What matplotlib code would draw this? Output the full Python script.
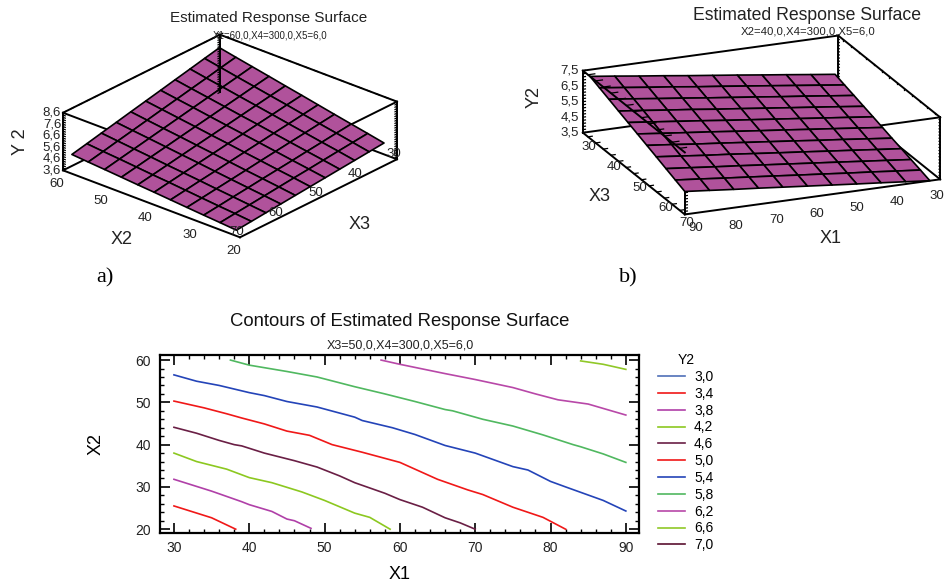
import numpy as np
import matplotlib
matplotlib.use("Agg")
import matplotlib.pyplot as plt
from matplotlib.ticker import MultipleLocator
from mpl_toolkits.mplot3d import proj3d

plt.rcParams['font.family'] = ['Liberation Sans', 'DejaVu Sans']

W, H = 947, 582
SURF = '#b0529b'

# panel a: Y2 against X2, X3
a_x2 = [20.8, 24.5, 28.2, 32.0, 35.7, 39.4, 43.1, 46.8, 50.6, 54.3, 58.0]
a_x3 = [70.0, 66.2, 62.5, 58.7, 55.0, 51.2, 47.4, 43.7, 39.9, 36.2, 32.4]
a_y2 = [
    [4.10, 4.22, 4.33, 4.45, 4.57, 4.69, 4.80, 4.92, 5.04, 5.15, 5.27],
    [4.22, 4.36, 4.48, 4.62, 4.76, 4.90, 5.02, 5.16, 5.30, 5.42, 5.56],
    [4.34, 4.49, 4.64, 4.79, 4.95, 5.10, 5.24, 5.40, 5.55, 5.70, 5.85],
    [4.46, 4.63, 4.79, 4.96, 5.13, 5.31, 5.47, 5.64, 5.81, 5.97, 6.14],
    [4.58, 4.77, 4.95, 5.13, 5.32, 5.51, 5.69, 5.88, 6.06, 6.24, 6.43],
    [4.70, 4.91, 5.10, 5.31, 5.51, 5.72, 5.91, 6.12, 6.32, 6.52, 6.72],
    [4.82, 5.04, 5.25, 5.48, 5.70, 5.92, 6.13, 6.35, 6.58, 6.79, 7.01],
    [4.94, 5.18, 5.41, 5.65, 5.89, 6.13, 6.35, 6.59, 6.83, 7.06, 7.30],
    [5.06, 5.32, 5.56, 5.82, 6.07, 6.33, 6.58, 6.83, 7.09, 7.33, 7.59],
    [5.18, 5.45, 5.72, 5.99, 6.26, 6.54, 6.80, 7.07, 7.34, 7.61, 7.88],
    [5.30, 5.59, 5.87, 6.16, 6.45, 6.74, 7.02, 7.31, 7.60, 7.88, 8.17],
]

# panel b: Y2 against X1, X3
b_x1 = [90.0, 84.2, 78.5, 72.7, 67.0, 61.2, 55.4, 49.6, 43.9, 38.1, 32.4]
b_x3 = [70.0, 66.3, 62.6, 58.8, 55.1, 51.4, 47.7, 44.0, 40.2, 36.5, 32.8]
b_y2 = [
    [4.98, 4.83, 4.68, 4.54, 4.39, 4.24, 4.09, 3.94, 3.80, 3.65, 3.50],
    [5.23, 5.08, 4.92, 4.77, 4.62, 4.46, 4.31, 4.15, 4.01, 3.85, 3.70],
    [5.48, 5.32, 5.16, 5.01, 4.85, 4.69, 4.53, 4.37, 4.21, 4.05, 3.89],
    [5.74, 5.57, 5.40, 5.25, 5.08, 4.91, 4.75, 4.58, 4.42, 4.25, 4.09],
    [5.99, 5.82, 5.64, 5.48, 5.31, 5.14, 4.97, 4.79, 4.63, 4.45, 4.28],
    [6.24, 6.06, 5.89, 5.72, 5.54, 5.36, 5.19, 5.01, 4.84, 4.66, 4.48],
    [6.49, 6.31, 6.13, 5.95, 5.76, 5.58, 5.40, 5.22, 5.04, 4.86, 4.68],
    [6.74, 6.56, 6.37, 6.19, 5.99, 5.81, 5.62, 5.43, 5.25, 5.06, 4.87],
    [7.00, 6.81, 6.61, 6.42, 6.22, 6.03, 5.84, 5.64, 5.46, 5.26, 5.07],
    [7.25, 7.05, 6.85, 6.66, 6.45, 6.26, 6.06, 5.86, 5.66, 5.46, 5.26],
    [7.50, 7.30, 7.09, 6.89, 6.68, 6.48, 6.28, 6.07, 5.87, 5.66, 5.46],
]

a_x2_ticks = [20, 30, 40, 50, 60]
a_x3_ticks = [30, 40, 50, 60, 70]
a_y_ticks = [3.6, 4.6, 5.6, 6.6, 7.6, 8.6]
b_x1_ticks = [30, 40, 50, 60, 70, 80, 90]
b_x3_ticks = [30, 40, 50, 60, 70]
b_y_ticks = [3.5, 4.5, 5.5, 6.5, 7.5]

# panel c: contour lines, level -> (X1, X2)
levels = ['3,0', '3,4', '3,8', '4,2', '4,6', '5,0', '5,4', '5,8', '6,2', '6,6', '7,0']
level_colors = ['#4f6fb8', '#f01818', '#b040a8', '#8cc820', '#6a1f45', '#f01818',
                '#2444b8', '#50b860', '#b848a8', '#90c828', '#5a1030']
lines_x1 = {
    '3,4': [30, 35, 38.2],
    '3,8': [30, 35, 39, 40, 43, 45, 46, 48.2],
    '4,2': [30, 33, 37, 40, 43, 47, 50, 54, 56, 58.7],
    '4,6': [30, 33, 36, 38, 39, 42, 46, 49, 52, 54, 58, 60, 63, 66, 68, 70],
    '5,0': [30, 34, 37, 39, 42, 45, 48, 51, 55, 60, 62, 65, 69, 71, 75, 79, 82],
    '5,4': [30, 33, 36, 40, 42, 45, 49, 54, 55, 59, 62, 66, 70, 75, 77, 80, 82, 87, 90],
    '5,8': [37.5, 40, 45, 49, 54, 58, 62, 66, 67, 71, 75, 79, 83, 84, 87, 90],
    '6,2': [57.5, 60, 66, 70, 75, 78, 81, 85, 90],
    '6,6': [84, 87, 90],
}
lines_x2 = {
    '3,4': [25.5, 22.7, 20],
    '3,8': [31.8, 29, 26.5, 25.8, 24.2, 22.4, 22, 20.2],
    '4,2': [38, 36, 34.2, 32.2, 31, 28.8, 26.8, 23.8, 22.8, 20],
    '4,6': [44.1, 42.7, 41, 40, 39.7, 38, 36.2, 34.7, 32.6, 31, 28.5, 27, 25.2, 22.7, 21.5, 20],
    '5,0': [50.3, 48.7, 47.3, 46.3, 44.9, 43.2, 42.2, 40, 38.2, 35.8, 34.2, 31.8, 29.3, 28.2, 25.2, 22.8, 20],
    '5,4': [56.5, 55, 54, 52.3, 51.6, 50.2, 48.9, 46.5, 45.7, 44, 42.4, 39.8, 38, 34.8, 34, 31.3, 30, 26.8, 24.3],
    '5,8': [60, 58.8, 57.3, 56, 53.7, 52, 50.2, 48.3, 48, 46, 44.4, 42.3, 40, 39.5, 37.8, 35.8],
    '6,2': [60, 59, 56.8, 55.4, 53.5, 52, 50.6, 49.6, 47],
    '6,6': [59.8, 59, 57.8],
}


def box_axes(fig, cx, cy, size):
    # the 3d view centre sits slightly off the middle of the axes
    left = cx - 0.5135 * size
    bottom = H - cy - 0.5135 * size
    return fig.add_axes([left / W, bottom / H, size / W, size / H], projection='3d',
                        proj_type='ortho', computed_zorder=False)


def label3d(ax, txt, x, y, z, dx, dy, size=9.5, rot=0):
    px, py, _ = proj3d.proj_transform(x, y, z, ax.get_proj())
    ax.annotate(txt, xy=(px, py), xytext=(dx * 0.72, -dy * 0.72), textcoords='offset points',
                ha='center', va='center', fontsize=size, color='#222222', annotation_clip=False,
                zorder=20, rotation=rot)


def edge(ax, p, q, z=1, lw=1.4):
    ax.plot([p[0], q[0]], [p[1], q[1]], [p[2], q[2]], color='black', lw=lw, zorder=z, clip_on=False)


def ticks_on(ax, start, stop, n, vec, z, lw=0.9):
    start = np.array(start, float)
    stop = np.array(stop, float)
    for i in range(n + 1):
        p = start + (stop - start) * i / n
        edge(ax, p, p + np.array(vec), z, lw)


def ftext(fig, x, y, s, size, **kw):
    fig.text(x / W, 1 - y / H, s, ha='center', va='center', fontsize=size, color=kw.pop('color', '#222222'), **kw)


fig = plt.figure(figsize=(W / 100, H / 100), dpi=100)

# ---- a)
ax = box_axes(fig, 230, 136, 331)
ax.view_init(elev=25.7, azim=131.1)
ax.set_box_aspect((235, 239, 64))
ax.set_xlim(20, 60)
ax.set_ylim(30, 70)
ax.set_zlim(3.6, 8.6)
ax.set_axis_off()
xa, ya = np.meshgrid(a_x2, a_x3)
ax.plot_surface(xa, ya, np.array(a_y2), color=SURF, edgecolor='black', linewidth=1.2,
                rcount=11, ccount=11, shade=False, zorder=5)
lo, hi = 3.6, 8.6
for p, q in [((60, 30, lo), (20, 30, lo)), ((60, 30, lo), (60, 70, lo)),
             ((60, 70, hi), (20, 70, hi)), ((20, 70, hi), (20, 30, hi))]:
    edge(ax, p, q, 1)
for p, q in [((60, 70, hi), (60, 30, hi)), ((60, 30, hi), (20, 30, hi)),
             ((60, 70, lo), (60, 70, hi)), ((20, 30, lo), (20, 30, hi)),
             ((60, 70, lo), (20, 70, lo)), ((20, 70, lo), (20, 30, lo)),
             ((60, 30, lo), (60, 30, hi))]:
    edge(ax, p, q, 8)
ticks_on(ax, (60, 70, hi), (60, 30, hi), 20, (0, -0.7, 0), 8)
ticks_on(ax, (60, 30, hi), (20, 30, hi), 20, (0.7, 0, 0), 8)
ticks_on(ax, (60, 30, lo), (60, 30, hi), 25, (0, 0.5, 0), 8)
ticks_on(ax, (60, 70, lo), (60, 70, hi), 25, (-0.5, 0, 0), 8)
ticks_on(ax, (20, 30, lo), (20, 30, hi), 25, (0, 0.5, 0), 8)
for v in a_x2_ticks:
    label3d(ax, str(v), v, 70, lo, -6, 14)
for v in a_x3_ticks:
    label3d(ax, str(v), 20, v, lo, -3, -5)
for v in a_y_ticks:
    label3d(ax, f'{v:.1f}'.replace('.', ','), 60, 70, v, -11, 0)
label3d(ax, 'X2', 40, 70, lo, -30, 36, 13)
label3d(ax, 'X3', 20, 50, lo, 41, 26, 13)
label3d(ax, 'Y 2', 60, 70, 6.1, -43, 0, 13, rot=90)

# ---- b)
ax = box_axes(fig, 761.5, 125, 378)
ax.view_init(elev=19.4, azim=67.5)
ax.set_box_aspect((276, 266, 65.7))
ax.set_xlim(30, 90)
ax.set_ylim(30, 70)
ax.set_zlim(3.5, 7.5)
ax.set_axis_off()
xb, yb = np.meshgrid(b_x1, b_x3)
ax.plot_surface(xb, yb, np.array(b_y2), color=SURF, edgecolor='black', linewidth=1.2,
                rcount=11, ccount=11, shade=False, zorder=5)
lo, hi = 3.5, 7.5
for p, q in [((30, 30, lo), (90, 30, lo)), ((30, 30, lo), (30, 70, lo)),
             ((30, 30, lo), (30, 30, hi)), ((30, 70, hi), (90, 70, hi)),
             ((90, 70, lo), (90, 70, hi))]:
    edge(ax, p, q, 1)
for p, q in [((90, 30, hi), (30, 30, hi)), ((30, 30, hi), (30, 70, hi)),
             ((90, 30, hi), (90, 70, hi)), ((90, 30, lo), (90, 30, hi)),
             ((30, 70, lo), (30, 70, hi)), ((90, 30, lo), (90, 70, lo)),
             ((90, 70, lo), (30, 70, lo))]:
    edge(ax, p, q, 8)
ticks_on(ax, (90, 32, hi), (90, 68, hi), 12, (-1.6, 0, 0), 8)
ticks_on(ax, (30, 32, hi), (30, 68, hi), 12, (0, 0, -0.08), 8)
ticks_on(ax, (90, 32, lo), (90, 68, lo), 12, (-1.0, 0, 0), 8)
ticks_on(ax, (90, 30, lo), (90, 30, hi), 20, (-0.6, 0, 0), 8)
ticks_on(ax, (90, 70, lo), (90, 70, hi), 20, (-0.6, 0, 0), 1)
ticks_on(ax, (30, 70, lo), (30, 70, hi), 20, (0, -0.4, 0), 8)
ticks_on(ax, (30, 30, lo), (30, 30, hi), 20, (0, 0.4, 0), 1)
for v in b_x1_ticks:
    label3d(ax, str(v), v, 70, lo, -3 + (v - 30) * 14 / 60, 17 if v != 90 else 14)
for v in b_x3_ticks:
    label3d(ax, str(v), 90, v, lo, 6 if v != 70 else 2, 14 if v != 70 else 9)
for v in b_y_ticks:
    label3d(ax, f'{v:.1f}'.replace('.', ','), 90, 30, v, -13, 0)
label3d(ax, 'X1', 60, 70, lo, 18, 42, 13)
label3d(ax, 'X3', 90, 50, lo, -34, 23, 13)
label3d(ax, 'Y2', 90, 30, 5.6, -49, -3, 13, rot=90)

# ---- c)
L, R, T, B = 160.4, 639.4, 355, 533
ax = fig.add_axes([L / W, (H - B) / H, (R - L) / W, (B - T) / H])
handles = []
for name, col in zip(levels, level_colors):
    ln, = ax.plot(lines_x1.get(name, []), lines_x2.get(name, []), color=col, lw=1.2, label=name)
    handles.append(ln)
ax.set_xlim(28.2, 91.8)
ax.set_ylim(19.1, 61.2)
ax.xaxis.set_major_locator(MultipleLocator(10))
ax.xaxis.set_minor_locator(MultipleLocator(2))
ax.yaxis.set_major_locator(MultipleLocator(10))
ax.yaxis.set_minor_locator(MultipleLocator(2))
ax.tick_params(which='major', direction='in', top=True, right=True, length=7, width=1.2, labelsize=10,
               labelcolor='#222222')
ax.tick_params(axis='x', which='major', pad=6)
ax.tick_params(axis='y', which='major', pad=7)
ax.tick_params(which='minor', direction='in', top=True, right=True, length=3, width=1.0)
for s in ax.spines.values():
    s.set_linewidth(1.6)
ax.set_xlabel('X1', fontsize=13, labelpad=8)
ax.set_ylabel('X2', fontsize=13, labelpad=22)
fig.legend(handles=handles, loc='upper left', bbox_to_anchor=(658 / W, (H - 353) / H), frameon=False,
           title='Y2', fontsize=10, title_fontsize=10, handlelength=1.95, labelspacing=0.205,
           handletextpad=0.65, borderpad=0, borderaxespad=0)

ftext(fig, 269, 18, 'Estimated Response Surface', 11)
ftext(fig, 270, 36, 'X1=60,0,X4=300,0,X5=6,0', 7)
ftext(fig, 807, 16, 'Estimated Response Surface', 12.7)
ftext(fig, 808, 32, 'X2=40,0,X4=300,0,X5=6,0', 8.2)
ftext(fig, 400, 321, 'Contours of Estimated Response Surface', 13.3, color='#111111')
ftext(fig, 400, 345, 'X3=50,0,X4=300,0,X5=6,0', 9)
ftext(fig, 105, 278, 'a)', 16, family='Liberation Serif', color='black')
ftext(fig, 628, 278, 'b)', 16, family='Liberation Serif', color='black')

fig.savefig('out.png', dpi=100)
